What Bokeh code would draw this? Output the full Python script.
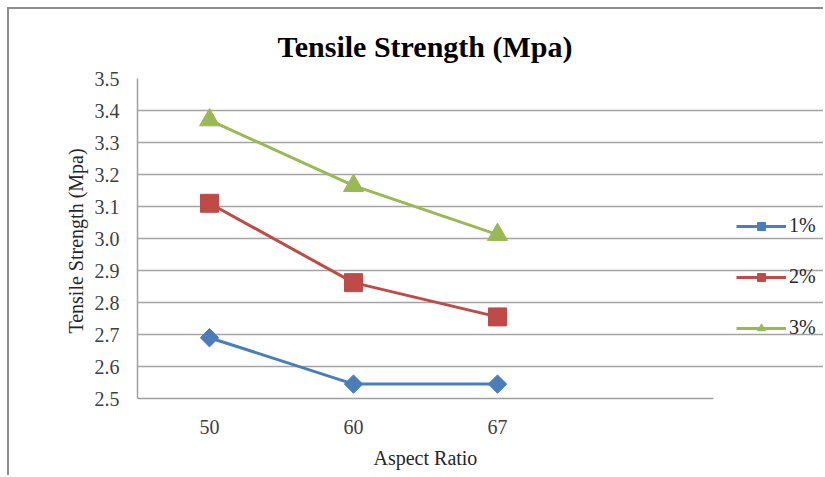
from bokeh.plotting import figure
from bokeh.models import (Range1d, Legend, LegendItem, Title,
                          FixedTicker, NumeralTickFormatter)
from bokeh.embed import file_html
from bokeh.resources import INLINE
import math

# ---- data ----
aspect_ratio = ["50", "60", "67"]
ts_1pct = [2.69, 2.545, 2.545]
ts_2pct = [3.11, 2.862, 2.755]
ts_3pct = [3.37, 3.165, 3.012]
series_labels = ["1%", "2%", "3%"]
y_ticks = [2.5, 2.6, 2.7, 2.8, 2.9, 3.0, 3.1, 3.2, 3.3, 3.4, 3.5]

SERIF = "Liberation Serif"
OFF = 9  # chart border offset (margin + border)

# category slots (3 categories + one empty slot, as in the original chart)
n_slots = len(aspect_ratio) + 1
x_pos = [i + 0.5 for i in range(len(aspect_ratio))]

axis_px = 576          # width of the category axis in pixels
frame_px = 825 - 137   # frame reaches the right edge so the legend is inside it

p = figure(width=825 - OFF, height=477 - OFF,
           x_range=Range1d(0, n_slots * frame_px / axis_px),
           y_range=Range1d(2.5, 3.5),
           output_backend="svg", toolbar_location=None,
           min_border_left=137 - OFF, min_border_right=0,
           min_border_top=78 - OFF, min_border_bottom=79)

p.styles = {"border-top": "2px solid #8c8c8c", "border-left": "2px solid #8c8c8c",
            "margin-top": "7px", "margin-left": "7px"}

p.outline_line_color = None
p.background_fill_color = "white"
p.border_fill_color = "white"

p.title.text = "Tensile Strength (Mpa)"
p.title.text_font = SERIF
p.title.text_font_size = "30px"
p.title.text_font_style = "bold"
p.title.text_color = "black"
p.title.align = "left"
p.title.offset = 140
p.title.standoff = 31

p.xgrid.grid_line_color = None
p.ygrid.grid_line_color = "#a4a4a4"
p.ygrid.grid_line_width = 1.5
p.ygrid.bounds = (0, n_slots)

p.xaxis.ticker = FixedTicker(ticks=x_pos)
p.xaxis.major_label_overrides = {x: lab for x, lab in zip(x_pos, aspect_ratio)}
p.xaxis.bounds = (0, n_slots)

p.yaxis.ticker = FixedTicker(ticks=y_ticks)
p.yaxis.formatter = NumeralTickFormatter(format="0.0")

for ax in (p.xaxis[0], p.yaxis[0]):
    ax.axis_line_color = "#a0a0a0"
    ax.axis_line_width = 1.5
    ax.major_tick_line_color = None
    ax.minor_tick_line_color = None
    ax.major_label_text_font = SERIF
    ax.major_label_text_font_size = "20px"
    ax.major_label_text_color = "#404040"
    ax.axis_label_text_font = SERIF
    ax.axis_label_text_font_size = "20px"
    ax.axis_label_text_font_style = "normal"
    ax.axis_label_text_color = "#262626"

p.xaxis.major_label_standoff = 15
p.yaxis.axis_label = "Tensile  Strength (Mpa)"
p.yaxis.major_label_standoff = 12
p.yaxis.axis_label_standoff = 5

# x-axis title, centred under the category axis (not the whole frame)
x_title = Title(text="Aspect Ratio", align="left", offset=236, standoff=16,
                text_font=SERIF, text_font_size="20px", text_font_style="normal",
                text_color="#262626")
p.add_layout(x_title, "below")

colors = ["#4A7EBB", "#BE4B48", "#98B954"]
markers = ["square", "square", "triangle"]
angles = [math.pi / 4, 0, 0]
sizes = [13, 18, 20]
values = [ts_1pct, ts_2pct, ts_3pct]

items = []
for lab, vals, c, m, a, s in zip(series_labels, values, colors, markers, angles, sizes):
    lr = p.line(x_pos, vals, line_color=c, line_width=3)
    sr = p.scatter(x_pos, vals, marker=m, angle=a, size=s,
                   fill_color=c, line_color=c)
    items.append(LegendItem(label=lab, renderers=[lr, sr]))

legend = Legend(items=items, location=(599, 59), glyph_width=50, glyph_height=20,
                spacing=28, padding=0, margin=0, border_line_color=None,
                background_fill_alpha=0, label_text_font=SERIF,
                label_text_font_size="20px", label_text_color="#262626",
                label_standoff=3)
p.add_layout(legend)

open("out.html", "w").write(file_html(p, INLINE))
